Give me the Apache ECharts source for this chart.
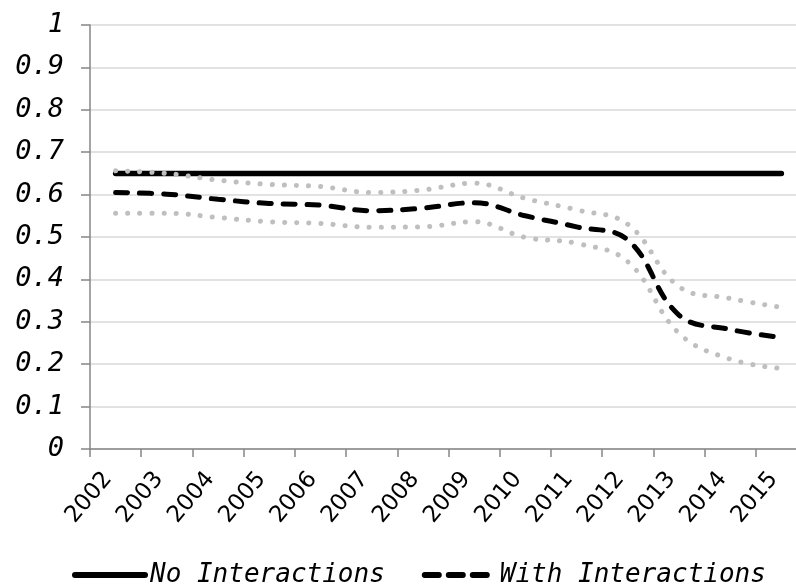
<!DOCTYPE html>
<html>
<head>
<meta charset="utf-8">
<script src="https://cdn.jsdelivr.net/npm/echarts@6/dist/echarts.min.js"></script>
<style>html,body{margin:0;padding:0;background:#fff}#c{width:796px;height:584px}</style>
</head>
<body>
<div id="c"></div>
<script>
var years = ['2002','2003','2004','2005','2006','2007','2008','2009','2010','2011','2012','2013','2014','2015'];
var noInteractions = [0.65,0.65,0.65,0.65,0.65,0.65,0.65,0.65,0.65,0.65,0.65,0.65,0.65,0.65];
var withInteractions = [0.605,0.601,0.589,0.579,0.575,0.562,0.568,0.581,0.550,0.524,0.493,0.316,0.282,0.263];
var upperBound = [0.656,0.650,0.634,0.624,0.619,0.605,0.611,0.627,0.591,0.564,0.530,0.383,0.355,0.334];
var lowerBound = [0.556,0.556,0.546,0.536,0.532,0.523,0.524,0.536,0.499,0.485,0.442,0.273,0.212,0.190];

var chart = echarts.init(document.getElementById('c'), null, {renderer: 'canvas'});
var mono = '"DejaVu Sans Mono", monospace';
chart.setOption({
  animation: false,
  backgroundColor: '#ffffff',
  grid: {left: 90, top: 25, width: 717, height: 424, outerBoundsMode: 'none', containLabel: false},
  legend: {
    data: [
      {name: 'No Interactions', lineStyle: {width: 6, type: 'solid', cap: 'round', color: '#000'}},
      {name: 'With Interactions', lineStyle: {width: 6, type: [14, 10], cap: 'round', color: '#000'}}
    ],
    left: 72, top: 562, padding: 0,
    itemWidth: 70, itemHeight: 14, itemGap: 37,
    itemStyle: {opacity: 0, color: 'rgba(0,0,0,0)', borderWidth: 0},
    textStyle: {fontFamily: mono, fontStyle: 'italic', fontSize: 26, color: '#000'}
  },
  xAxis: {
    type: 'category', data: years, boundaryGap: true,
    axisLine: {lineStyle: {color: '#868686', width: 1.5}},
    axisTick: {show: true, interval: 0, length: 8, lineStyle: {color: '#868686', width: 1.5}},
    axisLabel: {interval: 0, rotate: 50, margin: 17, padding: [0, 12, 0, 0], fontFamily: '"DejaVu Sans", sans-serif', fontSize: 23, color: '#000'},
    splitLine: {show: false}
  },
  yAxis: {
    type: 'value', min: 0, max: 1, interval: 0.1,
    axisLine: {show: true, lineStyle: {color: '#868686', width: 1.5}},
    axisTick: {show: true, length: 9, lineStyle: {color: '#868686', width: 1.5}},
    axisLabel: {margin: 26, fontFamily: mono, fontStyle: 'italic', fontSize: 27, color: '#000'},
    splitLine: {show: true, lineStyle: {color: '#d9d9d9', width: 1.5}}
  },
  series: [
    {name: 'No Interactions', type: 'line', data: noInteractions, symbol: 'none', smooth: 0.4,
     itemStyle: {color: '#000'},
     lineStyle: {color: '#000', width: 5.5, cap: 'round'}},
    {name: 'With Interactions', type: 'line', data: withInteractions, symbol: 'none', smooth: 0.4,
     itemStyle: {color: '#000'},
     lineStyle: {color: '#000', width: 5, type: [12, 12], cap: 'round'}},
    {name: 'Upper', type: 'line', data: upperBound, symbol: 'none', smooth: 0.4,
     itemStyle: {color: '#bfbfbf'},
     lineStyle: {color: '#bfbfbf', width: 5, type: [0.1, 12], cap: 'round'}},
    {name: 'Lower', type: 'line', data: lowerBound, symbol: 'none', smooth: 0.4,
     itemStyle: {color: '#bfbfbf'},
     lineStyle: {color: '#bfbfbf', width: 5, type: [0.1, 12], cap: 'round'}}
  ]
});
</script>
</body>
</html>
